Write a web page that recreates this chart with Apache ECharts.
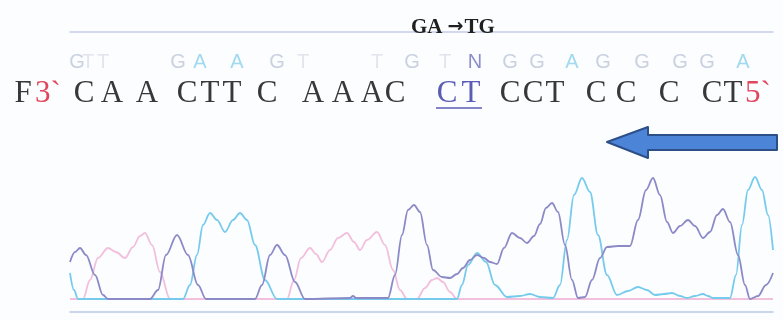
<!DOCTYPE html>
<html>
<head>
<meta charset="utf-8">
<script src="https://cdn.jsdelivr.net/npm/echarts@6/dist/echarts.min.js"></script>
<style>html,body{margin:0;padding:0;background:#fbfdff;}#c{width:783px;height:320px;}</style>
</head>
<body>
<div id="c"></div>
<script>
// ---- data ----
// reference (template) sequence shown in black, read 3'->5'
const seqBases = ['C','A','A','C','T','T','C','A','A','A','C','C','T','C','C','T','C','C','C','C','T'];
const seqScan  = [14,42,77,117,140,162,197,243,273,302,325,377,401,440,463,485,526,556,599,642,663];
const mutatedIdx = [11, 12];           // underlined "CT"
// faint base calls above
const callBases = ['G','T','T','G','A','A','G','T','T','G','T','N','G','G','A','G','G','G','G','A'];
const callScan  = [7,18,33,108,130,167,207,233,307,342,375,405,440,467,502,533,572,610,637,673];
// end labels
const endLabels = ['F', '3`', '5`'];
const endScan   = [-47, -22, 688];
const titleParts = ['GA', '\u2192', 'TG'];

// chromatogram traces: [scan, intensity]
const traceC = [[0,38],[5,48],[10,52],[16,45],[25,25],[33,5],[38,1],[80,1],[88,10],[96,45],[107,65],[118,45],[128,15],[136,1],[185,1],[192,15],[200,45],[207,55],[215,45],[225,18],[235,1],[280,2],[283,4],[286,2],[318,2],[325,25],[332,65],[338,90],[344,95],[350,88],[357,55],[363,30],[372,23],[380,22],[387,26],[393,32],[400,40],[407,45],[414,42],[420,38],[427,36],[434,52],[442,67],[450,62],[457,57],[464,64],[470,76],[476,92],[482,97],[488,88],[495,55],[502,20],[508,2],[515,3],[522,20],[530,42],[537,53],[548,54],[560,54],[568,80],[576,110],[583,122],[590,105],[597,78],[603,67],[610,74],[618,80],[625,74],[633,62],[640,68],[647,85],[653,91],[660,78],[668,45],[675,15],[680,1],[688,4],[696,15],[703,27]];
const traceA = [[0,27],[4,10],[8,1],[113,1],[120,15],[127,45],[133,75],[140,87],[147,80],[155,68],[163,80],[170,87],[177,80],[185,55],[195,20],[207,1],[387,1],[392,15],[398,35],[407,47],[416,38],[425,15],[437,3],[450,4],[460,6],[470,3],[483,2],[490,15],[497,60],[504,105],[512,122],[520,108],[528,65],[537,25],[547,5],[558,9],[568,13],[577,10],[585,5],[594,6],[602,7],[610,4],[617,2],[625,4],[633,6],[638,4],[643,2],[660,2],[666,25],[672,75],[678,110],[685,123],[692,110],[698,85],[703,50]];
const traceT = [[0,1],[13,1],[20,20],[28,42],[38,52],[46,48],[55,42],[63,53],[70,64],[75,67],[82,55],[90,28],[100,1],[217,1],[224,20],[231,42],[240,52],[246,46],[252,38],[260,50],[268,62],[277,67],[284,58],[290,50],[297,60],[307,68],[315,55],[323,30],[330,10],[337,1],[347,1],[355,12],[362,20],[367,22],[373,18],[380,8],[387,1],[703,1]];

// ---- layout constants ----
const ROW_CALL = 58, ROW_SEQ = 26.5, ROW_LINE = 12;
const callColor = {G:'#cad2e0', A:'#a2d9f0', T:'#e2e4ee', N:'#8a8fcc'};

const chart = echarts.init(document.getElementById('c'), null, {renderer:'canvas'});

const seqData = seqBases.map((b,i)=>({
  value:[seqScan[i], ROW_SEQ], name:b,
  label:{color: mutatedIdx.includes(i) ? '#5b5cb6' : '#383838'}
}));
const endData = endLabels.map((b,i)=>({
  value:[endScan[i], ROW_SEQ], name:b,
  label:{color: b==='F' ? '#383838' : '#e0475c'}
}));
const callData = callBases.map((b,i)=>({
  value:[callScan[i], ROW_CALL], name:b, label:{color: callColor[b]}
}));
const ulStart = seqScan[mutatedIdx[0]] - 11, ulEnd = seqScan[mutatedIdx[mutatedIdx.length-1]] + 11;

const traceStyle = (color)=>({
  type:'line', xAxisIndex:0, yAxisIndex:0, smooth:0.35, smoothMonotone:'x',
  symbol:'none', silent:true, lineStyle:{color:color, width:1.8}
});
const labelSeries = (data, font, size, weight)=>({
  type:'scatter', xAxisIndex:1, yAxisIndex:1, symbolSize:1, clip:false, silent:true,
  itemStyle:{opacity:0}, data:data,
  label:{show:true, position:'inside', formatter:'{b}', fontFamily:font, fontSize:size, fontWeight:weight||'normal', opacity:1}
});

chart.setOption({
  backgroundColor:'#fbfdff',
  animation:false,
  title:{text:'{a|'+titleParts[0]+'} {b|'+titleParts[1]+'}{a|'+titleParts[2]+'}', left:411, top:17, padding:0,
    textStyle:{rich:{
      a:{fontFamily:'Liberation Serif', fontWeight:'bold', fontSize:21, color:'#1f1f1f'},
      b:{fontFamily:'DejaVu Sans', fontWeight:'bold', fontSize:19, color:'#1f1f1f', padding:[0,1,0,0]}
    }}},
  grid:[
    {left:70, right:10, top:170, bottom:20},
    {left:70, right:10, top:32, height:88}
  ],
  xAxis:[
    {gridIndex:0, type:'value', min:0, max:703, offset:12,
      axisLine:{show:true, onZero:false, lineStyle:{color:'#bcc8e8', width:1.5}},
      axisTick:{show:false}, axisLabel:{show:false}, splitLine:{show:false}},
    {gridIndex:1, type:'value', min:0, max:703, position:'top',
      axisLine:{show:true, onZero:false, lineStyle:{color:'#c6cde8', width:1.5}},
      axisTick:{show:false}, axisLabel:{show:false}, splitLine:{show:false}}
  ],
  yAxis:[
    {gridIndex:0, type:'value', min:0, max:130, show:false},
    {gridIndex:1, type:'value', min:0, max:88, show:false}
  ],
  graphic:[{
    type:'polygon', silent:true,
    shape:{points:[[607,142],[648,127],[648,135],[777,135],[777,150],[648,150],[648,158]]},
    style:{fill:'#4c84d8', stroke:'#2d4f88', lineWidth:2, lineJoin:'round'}
  }],
  series:[
    Object.assign(traceStyle('#f2bfdc'), {name:'T', data:traceT}),
    Object.assign(traceStyle('#76cbec'), {name:'A', data:traceA}),
    Object.assign(traceStyle('#8c8ac6'), {name:'C', data:traceC}),
    labelSeries(callData, 'Liberation Sans', 20),
    labelSeries(seqData, 'Liberation Serif', 31),
    labelSeries(endData, 'Liberation Serif', 31),
    {type:'line', xAxisIndex:1, yAxisIndex:1, symbol:'none', silent:true,
      lineStyle:{color:'#5b5cb6', width:1.5}, data:[[ulStart, ROW_LINE],[ulEnd, ROW_LINE]]}
  ]
});
</script>
</body>
</html>
